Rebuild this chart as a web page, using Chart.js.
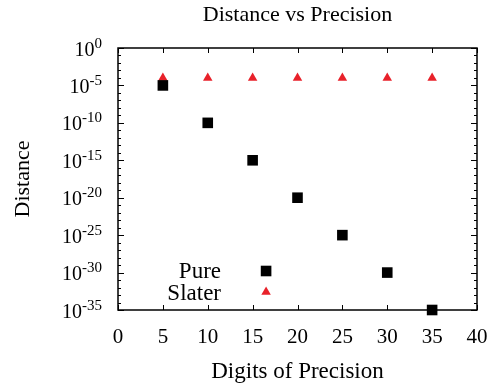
<!DOCTYPE html>
<html><head><meta charset="utf-8">
<script src="https://cdn.jsdelivr.net/npm/chart.js@4/dist/chart.umd.min.js"></script>
<style>html,body{margin:0;padding:0;background:#fff}#wrap{width:497px;height:388px;position:relative}</style>
</head><body><div id="wrap"><canvas id="c"></canvas></div>
<script>
const chartTitle = 'Distance vs Precision';
const xAxisTitle = 'Digits of Precision';
const yAxisTitle = 'Distance';
const seriesNames = ['Pure', 'Slater'];
const digits = [5, 10, 15, 20, 25, 30, 35];
const pureDistance = [1e-5, 1e-10, 1e-15, 1e-20, 1e-25, 1e-30, 1e-35];
const slaterDistance = [1e-4, 1e-4, 1e-4, 1e-4, 1e-4, 1e-4, 1e-4];
const xTicks = [0, 5, 10, 15, 20, 25, 30, 35, 40];
const yTickExponents = [0, -5, -10, -15, -20, -25, -30, -35];

const FONT = '"Liberation Serif", "Times New Roman", serif';
const RED = '#e8212a';

const boxPlugin = {
  id: 'boxPlugin',
  afterDraw(chart) {
    const {ctx, chartArea: ca, scales: {x, y}} = chart;
    ctx.save();
    ctx.strokeStyle = '#000';
    ctx.lineWidth = 1.5;
    ctx.strokeRect(ca.left, ca.top, ca.width, ca.height);
    ctx.lineWidth = 1;
    ctx.beginPath();
    xTicks.forEach(v => {
      const px = Math.round(x.getPixelForValue(v)) + 0.5;
      ctx.moveTo(px, ca.bottom); ctx.lineTo(px, ca.bottom - 5);
      ctx.moveTo(px, ca.top); ctx.lineTo(px, ca.top + 5);
    });
    const eMax = yTickExponents[0], eMin = yTickExponents[yTickExponents.length - 1];
    for (let e = eMax; e >= eMin; e--) {
      const py = Math.round(y.getPixelForValue(Math.pow(10, e))) + 0.5;
      const len = (e % 5 === 0) ? 6 : 3;
      ctx.moveTo(ca.left, py); ctx.lineTo(ca.left + len, py);
      ctx.moveTo(ca.right, py); ctx.lineTo(ca.right - len, py);
    }
    ctx.stroke();

    // y tick labels 10^n
    ctx.fillStyle = '#000';
    ctx.textBaseline = 'alphabetic';
    ctx.textAlign = 'left';
    const labelRight = ca.left - 16;
    yTickExponents.forEach(e => {
      const py = y.getPixelForValue(Math.pow(10, e));
      ctx.font = '15px ' + FONT;
      const expStr = String(e);
      const ew = ctx.measureText(expStr).width;
      ctx.font = '20px ' + FONT;
      const bw = ctx.measureText('10').width;
      const x0 = labelRight - ew - bw;
      const base = py + 7.5;
      ctx.fillText('10', x0, base);
      ctx.font = '15px ' + FONT;
      ctx.fillText(expStr, x0 + bw, base - 8);
    });

    // title
    ctx.font = '22px ' + FONT;
    ctx.textAlign = 'center';
    ctx.textBaseline = 'alphabetic';
    ctx.fillText(chartTitle, (ca.left + ca.right) / 2, 21);

    // legend
    const ds = chart.data.datasets;
    const lx = x.getPixelForValue(16.5);
    const textBase = [278, 300];
    const markY = [271, 292];
    ctx.font = '23px ' + FONT;
    ctx.textAlign = 'right';
    ds.forEach((d, i) => {
      ctx.fillStyle = '#000';
      ctx.fillText(d.label, 221, textBase[i]);
      ctx.fillStyle = d.backgroundColor;
      Chart.helpers.drawPoint(ctx, {pointStyle: d.pointStyle, radius: d.pointRadius, rotation: 0, borderWidth: 0}, lx, markY[i]);
    });
    ctx.restore();
  }
};

new Chart(document.getElementById('c'), {
  type: 'scatter',
  data: {
    datasets: [
      {
        label: seriesNames[0],
        data: digits.map((d, i) => ({x: d, y: pureDistance[i]})),
        pointStyle: 'rect', pointRadius: 7.5, pointHoverRadius: 7.5,
        backgroundColor: '#000', borderColor: '#000', borderWidth: 0, clip: false
      },
      {
        label: seriesNames[1],
        data: digits.map((d, i) => ({x: d, y: slaterDistance[i]})),
        pointStyle: 'triangle', pointRadius: 5.5, pointHoverRadius: 5.5,
        backgroundColor: RED, borderColor: RED, borderWidth: 0, clip: false
      }
    ]
  },
  options: {
    responsive: true,
    maintainAspectRatio: false,
    animation: false,
    events: [],
    layout: {padding: {top: 48, right: 20, left: 0, bottom: 0}},
    plugins: {legend: {display: false}, title: {display: false}, tooltip: {enabled: false}},
    scales: {
      x: {
        type: 'linear', min: 0, max: 40,
        afterBuildTicks: s => { s.ticks = xTicks.map(v => ({value: v})); },
        afterFit: s => { s.height = 78; s.paddingLeft = 0; s.paddingRight = 0; },
        grid: {display: false, drawTicks: false},
        border: {display: false},
        ticks: {font: {family: FONT, size: 21}, color: '#000', padding: 15, maxRotation: 0},
        title: {display: true, text: xAxisTitle, font: {family: FONT, size: 23}, color: '#000', padding: {top: 0, bottom: 2}}
      },
      y: {
        type: 'logarithmic', min: 1e-35, max: 1,
        afterFit: s => { s.width = 118; s.paddingTop = 0; s.paddingBottom = 0; },
        grid: {display: false, drawTicks: false},
        border: {display: false},
        ticks: {display: false},
        title: {display: true, text: yAxisTitle, font: {family: FONT, size: 22}, color: '#000', padding: {top: 10, bottom: 0}}
      }
    }
  },
  plugins: [boxPlugin]
});
</script>
</body></html>
